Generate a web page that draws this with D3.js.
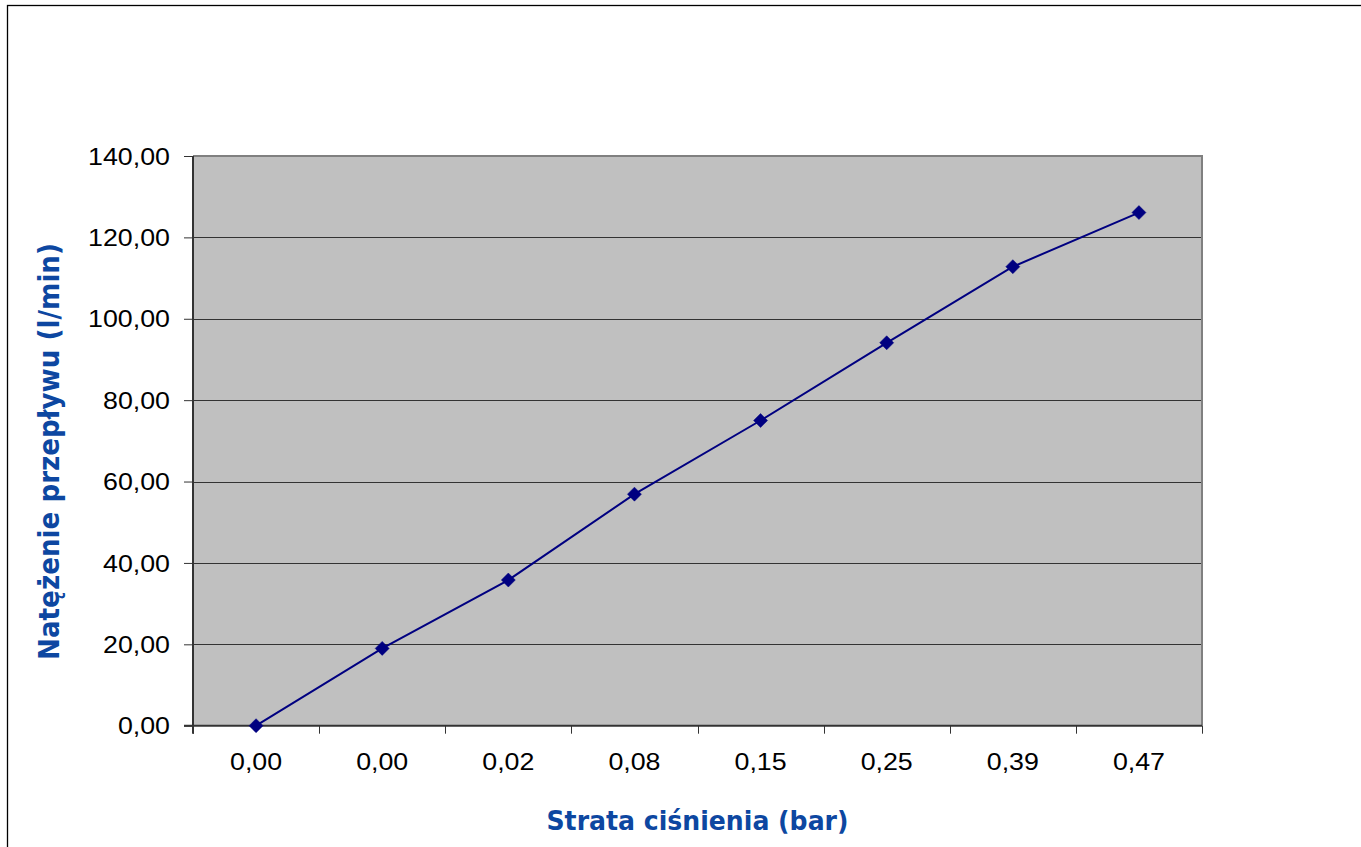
<!DOCTYPE html>
<html>
<head>
<meta charset="utf-8">
<script src="https://cdn.jsdelivr.net/npm/d3@7"></script>
<style>
  html, body { margin: 0; padding: 0; background: #fff; }
  svg { display: block; }
</style>
</head>
<body>
<svg id="chart" width="1361" height="847"></svg>
<script>
const categories = ["0,00", "0,00", "0,02", "0,08", "0,15", "0,25", "0,39", "0,47"];
const flowValues = [0, 19.0, 35.8, 56.9, 75.0, 94.1, 112.8, 126.1];
const yTicks = [0, 20, 40, 60, 80, 100, 120, 140];
const xTitle = "Strata ciśnienia (bar)";
const yTitle = "Natężenie przepływu (l/min)";

const W = 1361, H = 847;
const plot = { left: 193, right: 1202, top: 156, bottom: 725.7 };
const svg = d3.select("#chart");
const stretch = 1.15;

// outer chart border
svg.append("rect")
  .attr("x", 7.5).attr("y", 5.5)
  .attr("width", 1400).attr("height", 900)
  .attr("fill", "#fff").attr("stroke", "#000").attr("stroke-width", 1.3);

const idx = d3.range(categories.length);
const x = d3.scaleBand().domain(idx).range([plot.left, plot.right]).paddingInner(0).paddingOuter(0);
const y = d3.scaleLinear().domain([0, 140]).range([plot.bottom, plot.top]);

// plot background
svg.append("rect")
  .attr("x", plot.left).attr("y", plot.top)
  .attr("width", plot.right - plot.left).attr("height", plot.bottom - plot.top)
  .attr("fill", "#C0C0C0");

// gridlines
svg.append("g").selectAll("line")
  .data(yTicks.filter(d => d > 0 && d < 140))
  .join("line")
  .attr("x1", plot.left).attr("x2", plot.right)
  .attr("y1", d => Math.round(y(d)) + 0.5).attr("y2", d => Math.round(y(d)) + 0.5)
  .attr("stroke", "#333").attr("stroke-width", 1);

// plot border top / right
svg.append("path")
  .attr("d", `M${plot.left},${plot.top}H${plot.right}V${plot.bottom}`)
  .attr("fill", "none").attr("stroke", "#808080").attr("stroke-width", 2);

// Y axis
const yAxis = d3.axisLeft(y).tickValues(yTicks).tickSize(9).tickPadding(0)
  .tickFormat(d => d3.format(".2f")(d).replace(".", ","));
const gy = svg.append("g").attr("transform", `translate(${plot.left},0)`).call(yAxis);
gy.select(".domain").remove();
gy.selectAll(".tick line").attr("stroke", "#333").attr("stroke-width", 1);
gy.selectAll(".tick text")
  .attr("x", null)
  .attr("dy", "0.35em")
  .attr("transform", `translate(-23,0) scale(${stretch},1)`)
  .attr("text-anchor", "end")
  .attr("fill", "#000")
  .style("font-family", "'Liberation Sans', Arial, sans-serif")
  .style("font-size", "23.3px");

// X axis with ticks at category boundaries
const xAxis = d3.axisBottom(x).tickSize(0).tickPadding(0).tickFormat(i => categories[i]);
const gx = svg.append("g").attr("transform", `translate(0,${plot.bottom})`).call(xAxis);
gx.select(".domain").remove();
gx.selectAll(".tick text")
  .attr("y", null).attr("dy", null)
  .attr("transform", `translate(0,44) scale(${stretch},1)`)
  .attr("text-anchor", "middle")
  .attr("fill", "#000")
  .style("font-family", "'Liberation Sans', Arial, sans-serif")
  .style("font-size", "23.3px");
const boundaries = idx.map(i => x(i)).concat([x(idx[idx.length - 1]) + x.bandwidth()]);
svg.append("g").selectAll("line")
  .data(boundaries).join("line")
  .attr("x1", d => Math.round(d) + 0.5).attr("x2", d => Math.round(d) + 0.5)
  .attr("y1", plot.bottom).attr("y2", plot.bottom + 8)
  .attr("stroke", "#333").attr("stroke-width", 1);

// axis lines
svg.append("line")
  .attr("x1", plot.left).attr("x2", plot.left)
  .attr("y1", plot.top).attr("y2", plot.bottom + 8)
  .attr("stroke", "#333").attr("stroke-width", 2);
svg.append("line")
  .attr("x1", plot.left - 9).attr("x2", plot.right)
  .attr("y1", plot.bottom).attr("y2", plot.bottom)
  .attr("stroke", "#333").attr("stroke-width", 2);

// series line
const pts = idx.map(i => [x(i) + x.bandwidth() / 2, y(flowValues[i])]);
svg.append("path")
  .attr("d", d3.line()(pts))
  .attr("fill", "none").attr("stroke", "#000080").attr("stroke-width", 2);

// diamond markers
svg.append("g").selectAll("path")
  .data(pts).join("path")
  .attr("transform", d => `translate(${d[0]},${d[1]})`)
  .attr("d", "M0,-7L7,0L0,7L-7,0Z")
  .attr("fill", "#000080").attr("stroke", "#000080").attr("stroke-width", 0.5);

// axis titles
svg.append("text")
  .attr("x", (plot.left + plot.right) / 2).attr("y", 830)
  .attr("text-anchor", "middle")
  .attr("fill", "#0D47A1")
  .attr("textLength", 302).attr("lengthAdjust", "spacingAndGlyphs")
  .style("font-family", "'DejaVu Sans', Verdana, sans-serif")
  .style("font-weight", "bold")
  .style("font-size", "27px")
  .text(xTitle);

svg.append("text")
  .attr("transform", `translate(59,451.5) rotate(-90)`)
  .attr("text-anchor", "middle")
  .attr("fill", "#0D47A1")
  .attr("textLength", 417).attr("lengthAdjust", "spacingAndGlyphs")
  .style("font-family", "'DejaVu Sans', Verdana, sans-serif")
  .style("font-weight", "bold")
  .style("font-size", "28px")
  .text(yTitle);
</script>
</body>
</html>
